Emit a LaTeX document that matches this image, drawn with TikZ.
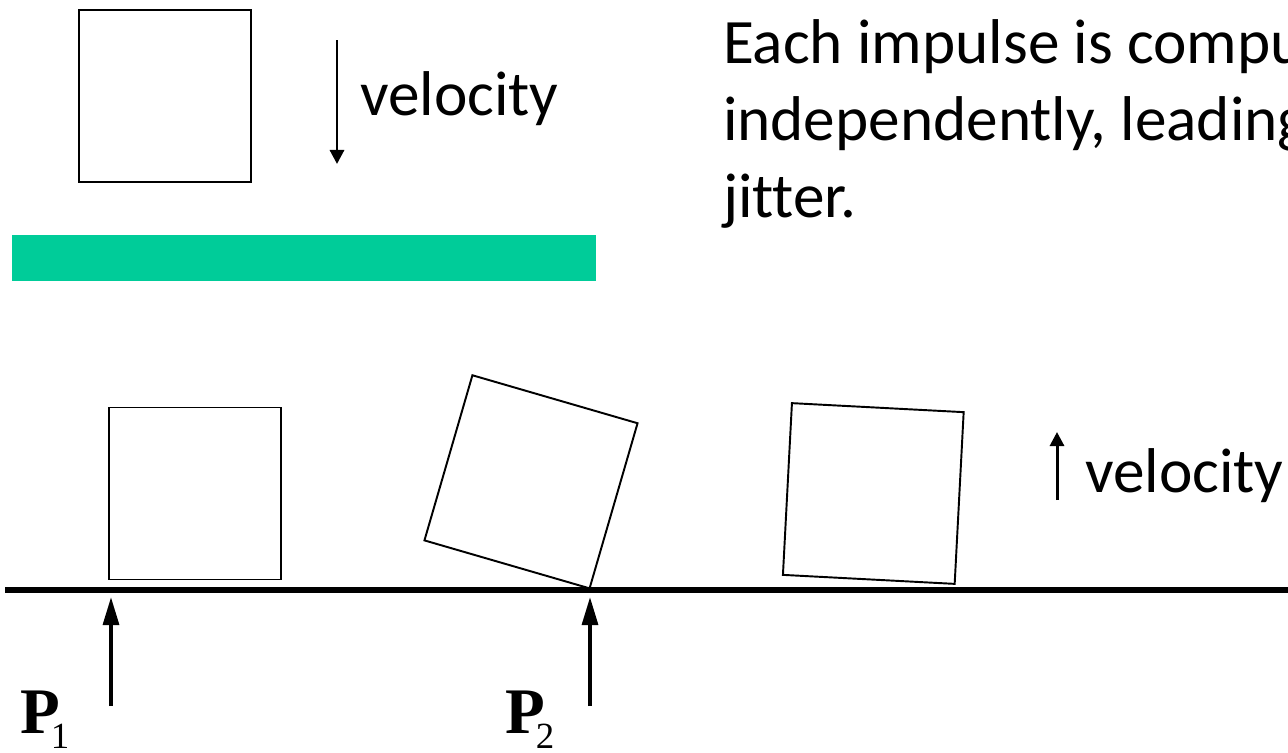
\documentclass[tikz,border=0pt]{standalone}
\usepackage{fontspec}
\setmainfont{Carlito}[Ligatures=NoCommon]
\newfontfamily\serifP{Liberation Serif}
\usetikzlibrary{arrows.meta,positioning}
\definecolor{barGreen}{RGB}{0,204,153}
\tikzset{
  block/.style={draw, line width=1.1pt, minimum size=3.44cm, inner sep=0pt, outer sep=0pt},
  vel/.style={-{Triangle[length=8pt,width=8pt]}, line width=1.7pt},
  push/.style={-{Triangle[length=16pt,width=9pt]}, line width=2.2pt},
  bigtxt/.style={font=\fontsize{36}{43.8}\selectfont, inner sep=0pt, outer sep=0pt},
  ptxt/.style={font=\serifP\fontsize{37}{40}\selectfont, inner sep=0pt, outer sep=0pt}
}
\newcommand{\impulse}[1]{\textbf{P}\kern-5pt\raisebox{-9pt}{\fontsize{21}{21}\selectfont #1}}
\begin{document}
\begin{tikzpicture}[x=0.02cm, y=-0.02cm]
  \useasboundingbox (0,0) rectangle (1288,752);
  \clip (0,0) rectangle (1288,752);
  % falling box and the plate
  \node[block] (falling) at (165,96) {};
  \coordinate (vdown0) at (337,40);
  \coordinate (vdown1) at (337,164);
  \draw[vel] (vdown0) -- (vdown1);
  \node[bigtxt, anchor=base west] (veltop) at (360,115) {velocity};
  \fill[barGreen] (12,235) rectangle (596,281);
  % text
  \node[bigtxt, anchor=base west] (note1) at (723,63) {Each impulse is computed};
  \node[bigtxt, anchor=base west] (note2) at (723,140) {independently, leading to};
  \node[bigtxt, anchor=base west] (note3) at (723,217) {jitter.};
  % ground
  \coordinate (groundL) at (5,590);
  \coordinate (groundR) at (1288,590);
  \draw[line width=3.4pt] (groundL) -- (groundR);
  % boxes on the ground
  \node[block] (rest) at (195,493.5) {};
  \node[block, rotate=-16.2] (tilt) at (531,481.8) {};
  \node[block, rotate=-3] (bounce) at (873.3,493.5) {};
  \coordinate (vup0) at (1057,500);
  \coordinate (vup1) at (1057,432);
  \draw[vel] (vup0) -- (vup1);
  \node[bigtxt, anchor=base west] (velright) at (1085,492) {velocity};
  % impulses
  \coordinate (p1tail) at (111,706);
  \coordinate (p1tip) at (111,597);
  \draw[push] (p1tail) -- (p1tip);
  \node[ptxt, anchor=base west] (imp1) at (20,733) {\impulse{1}};
  \coordinate (p2tail) at (590,706);
  \coordinate (p2tip) at (590,597);
  \draw[push] (p2tail) -- (p2tip);
  \node[ptxt, anchor=base west] (imp2) at (505,733) {\impulse{2}};
\end{tikzpicture}
\end{document}
